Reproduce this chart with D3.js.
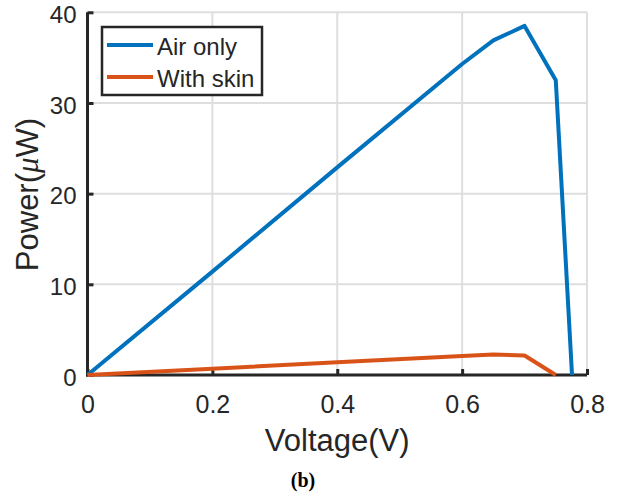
<!DOCTYPE html>
<html>
<head>
<meta charset="utf-8">
<script src="https://cdn.jsdelivr.net/npm/d3@7"></script>
<style>
  body { margin: 0; background: #fff; }
  text { font-family: "Liberation Sans", Arial, sans-serif; fill: #262626; }
</style>
</head>
<body>
<div id="chart"></div>
<script>
var airVoltage = [0, 0.2, 0.4, 0.6, 0.65, 0.7, 0.75, 0.776];
var airPower   = [0, 11.4, 22.9, 34.3, 36.9, 38.5, 32.5, 0];

var skinVoltage = [0, 0.2, 0.4, 0.6, 0.65, 0.7, 0.75];
var skinPower   = [0, 0.7, 1.4, 2.1, 2.25, 2.15, 0];

var xTicks = [0, 0.2, 0.4, 0.6, 0.8];
var yTicks = [0, 10, 20, 30, 40];

var seriesNames = ['Air only', 'With skin'];
var seriesColors = ['#0072BD', '#D95319'];

var width = 619, height = 497;
var svg = d3.select('#chart').append('svg')
            .attr('width', width)
            .attr('height', height);

var x = d3.scaleLinear().domain([0, 0.8]).range([87.5, 587]);
var y = d3.scaleLinear().domain([0, 40]).range([375, 12.3]);

// grid
svg.append('g').selectAll('line').data(xTicks.slice(1)).enter().append('line')
   .attr('x1', d => x(d)).attr('x2', d => x(d))
   .attr('y1', y(0)).attr('y2', y(40))
   .style('stroke', '#dedede').style('stroke-width', 2);
svg.append('g').selectAll('line').data(yTicks.slice(1)).enter().append('line')
   .attr('y1', d => y(d)).attr('y2', d => y(d))
   .attr('x1', x(0)).attr('x2', x(0.8))
   .style('stroke', '#dedede').style('stroke-width', 2);

// axes
var xAxis = svg.append('g').attr('transform', 'translate(0,' + y(0) + ')')
   .call(d3.axisBottom(x).tickValues(xTicks).tickSizeInner(-6).tickSizeOuter(0).tickPadding(20)
        .tickFormat(d => d === 0 ? '0' : d3.format('.1f')(d)));
var yAxis = svg.append('g').attr('transform', 'translate(' + x(0) + ',0)')
   .call(d3.axisLeft(y).tickValues(yTicks).tickSizeInner(-6).tickSizeOuter(0).tickPadding(11));

[xAxis, yAxis].forEach(function(a) {
  a.select('.domain').style('stroke', '#262626').style('stroke-width', 3);
  a.selectAll('.tick line').style('stroke', '#262626').style('stroke-width', 3);
  a.selectAll('.tick text').style('font-family', '"Liberation Sans", Arial, sans-serif').style('fill', '#262626');
});
xAxis.selectAll('.tick text').style('font-size', '25px');
yAxis.selectAll('.tick text').style('font-size', '24px').attr('dy', '0.42em');
// extend domains to cover the corner
xAxis.select('.domain').attr('d', 'M' + (x(0) - 1.5) + ',0H' + x(0.8));
yAxis.select('.domain').attr('d', 'M0,' + (y(0) + 1.5) + 'V' + y(40));

// lines
var line = d3.line().x(d => x(d[0])).y(d => y(d[1]));
var airData = airVoltage.map((v, i) => [v, airPower[i]]);
var skinData = skinVoltage.map((v, i) => [v, skinPower[i]]);

svg.append('path').datum(airData).attr('d', line)
   .style('fill', 'none').style('stroke', seriesColors[0]).style('stroke-width', 4)
   .style('stroke-linejoin', 'round');
svg.append('path').datum(skinData).attr('d', line)
   .style('fill', 'none').style('stroke', seriesColors[1]).style('stroke-width', 4)
   .style('stroke-linejoin', 'round');

// legend
var legend = svg.append('g');
legend.append('rect').attr('x', 102).attr('y', 27).attr('width', 160).attr('height', 68)
      .style('fill', '#fff').style('stroke', '#262626').style('stroke-width', 2.5);
seriesNames.forEach(function(name, i) {
  var ly = 45 + i * 32;
  legend.append('line').attr('x1', 107).attr('x2', 153).attr('y1', ly).attr('y2', ly)
        .style('stroke', seriesColors[i]).style('stroke-width', 4);
  legend.append('text').attr('x', 157).attr('y', ly + 9.5).style('font-size', '24px').text(name);
});

// axis labels
svg.append('text').attr('x', x(0.4)).attr('y', 451).attr('text-anchor', 'middle')
   .style('font-size', '31px').text('Voltage(V)');
var yl = svg.append('text').attr('transform', 'translate(38,194.5) rotate(-90)')
   .attr('text-anchor', 'middle').style('font-size', '31px');
yl.append('tspan').text('Power(');
yl.append('tspan').style('font-family', '"Liberation Serif", "Times New Roman", serif').style('font-style', 'italic').text('\u03bc');
yl.append('tspan').text('W)');

svg.append('text').attr('x', 303).attr('y', 487).attr('text-anchor', 'middle')
   .style('font-family', '"Liberation Serif", "Times New Roman", serif').style('font-weight', 'bold')
   .style('font-size', '20px').style('fill', '#000').text('(b)');
</script>
</body>
</html>
